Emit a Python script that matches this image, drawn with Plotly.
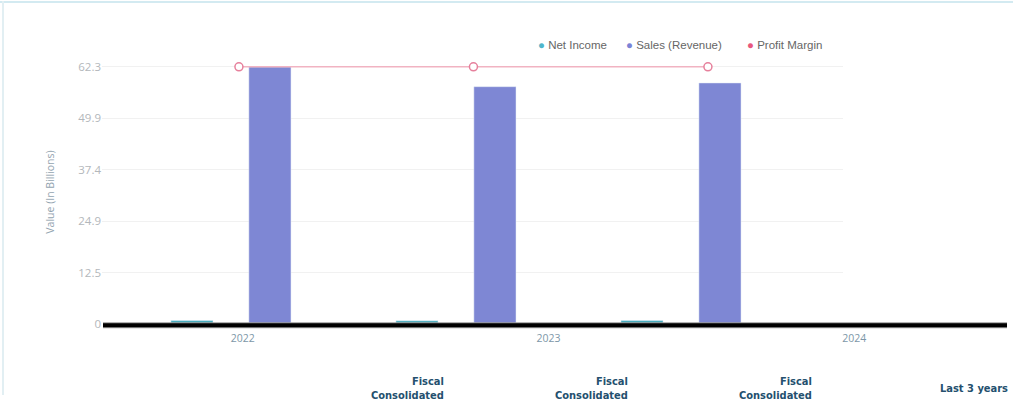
import plotly.graph_objects as go

# ---- data ----
years = [2022, 2023, 2024]
net_income = [0.9, 0.85, 0.9]          # billions
sales = [62.3, 57.5, 58.4]             # billions
profit_margin = [62.3, 62.3, 62.3]     # drawn at the top level in the source
y_tick_labels = ["0", "12.5", "24.9", "37.4", "49.9", "62.3"]
bottom_labels = ["Fiscal<br>Consolidated", "Fiscal<br>Consolidated", "Fiscal<br>Consolidated", "Last 3 years"]

W, H = 1013, 402
HE = 395.0  # effective rendered height used for paper-coordinate mapping
def px(x):
    return x / W
def py(y):
    return 1 - y / HE

C_NET = "#45abbd"
C_SALES = "#7e87d4"
C_PM = "#e6809c"
C_PM_LINE = "#f1b3c2"

fig = go.Figure()

fig.add_trace(go.Bar(x=years, y=net_income, name="Net Income", marker_color=C_NET,
                     xaxis="x", yaxis="y", showlegend=False))
fig.add_trace(go.Bar(x=years, y=sales, name="Sales (Revenue)", marker_color=C_SALES,
                     xaxis="x", yaxis="y", showlegend=False))
fig.add_trace(go.Scatter(x=years, y=profit_margin, name="Profit Margin", mode="lines+markers",
                         line=dict(color=C_PM_LINE, width=1.5),
                         marker=dict(symbol="circle", size=8, color="white",
                                     line=dict(color=C_PM, width=1.5)),
                         cliponaxis=False, xaxis="x3", yaxis="y", showlegend=False))
# carrier for the year labels axis
fig.add_trace(go.Scatter(x=years, y=[None] * len(years), mode="markers", xaxis="x2", yaxis="y3",
                         showlegend=False, hoverinfo="skip"))

# legend entries (dot + text, one small legend each)
legend_items = [("Net Income", "#4fb6cb", 540), ("Sales (Revenue)", "#7b83d6", 628),
                ("Profit Margin", "#e8587e", 749)]
legend_layout = {}
for i, (nm, c, xl) in enumerate(legend_items):
    key = "legend" if i == 0 else f"legend{i+1}"
    fig.add_trace(go.Scatter(x=[None], y=[None], mode="markers",
                             name=f"<span style='color:{c}'>●</span> {nm}",
                             marker=dict(symbol="circle", size=1, color="rgba(0,0,0,0)"),
                             xaxis="x", yaxis="y", showlegend=True, legend=key))
    legend_layout[key] = dict(orientation="h", x=px(xl - 42), y=py(44), xanchor="left",
                              yanchor="middle", bgcolor="rgba(0,0,0,0)",
                              font=dict(family="Liberation Sans, Arial, sans-serif",
                                        size=11.5, color="#666"))

ydom = [py(324), py(324 - 64 * 4.141)]

fig.update_layout(
    width=W, height=H,
    margin=dict(l=0, r=0, t=0, b=0),
    paper_bgcolor="white", plot_bgcolor="rgba(0,0,0,0)",
    barmode="group", bargap=0.307, bargroupgap=0.46,
    font=dict(family="Open Sans, DejaVu Sans, sans-serif", size=10, color="#666"),
    xaxis=dict(domain=[px(102), px(843)], range=[2021.427, 2024.72], type="linear",
               showgrid=False, showticklabels=False, zeroline=False, showline=False),
    xaxis3=dict(domain=[px(102), px(843)], range=[2021.416, 2024.576], type="linear",
                overlaying="x", anchor="y", visible=False),
    xaxis2=dict(domain=[px(90), px(1007)], range=[2021.5, 2024.5], type="linear",
                anchor="y3", tickvals=years, ticktext=[str(y) for y in years],
                showgrid=False, zeroline=False, showline=False, ticklabelstandoff=6,
                tickfont=dict(size=10.5, color="#7d97a8"), ticks=""),
    yaxis=dict(domain=ydom, range=[0, 64], anchor="x",
               tickvals=[float(t) for t in y_tick_labels], ticktext=y_tick_labels,
               showgrid=True, gridcolor="#f1f1f1", gridwidth=1, zeroline=False,
               showline=False, ticks="",
               tickfont=dict(size=11.5, color="#b3b7bb"),
               title=dict(text="Value (In Billions)", font=dict(size=10.5, color="#93a4b0"),
                          standoff=21)),
    yaxis3=dict(domain=ydom, range=[0, 64], anchor="x2", visible=False, showgrid=False),
    showlegend=True,
    **legend_layout,
)

# thick base line and page borders
fig.add_shape(type="line", xref="paper", yref="paper", x0=px(103), x1=px(1007),
              y0=py(325), y1=py(325), line=dict(color="#9a9a9a", width=6))
fig.add_shape(type="line", xref="paper", yref="paper", x0=px(103), x1=px(1007),
              y0=py(325), y1=py(325), line=dict(color="black", width=4))
fig.add_shape(type="line", xref="paper", yref="paper", x0=0, x1=1,
              y0=py(1), y1=py(1), line=dict(color="#d3eaf1", width=2))
fig.add_shape(type="line", xref="paper", yref="paper", x0=px(3), x1=px(3),
              y0=0, y1=1, line=dict(color="#e2eff3", width=2))

# bottom page labels
label_right = [446, 630, 814, 1010]
for txt, xr in zip(bottom_labels, label_right):
    fig.add_annotation(text=f"<b>{txt}</b>", xref="paper", yref="paper",
                       x=px(xr), y=py(388), xanchor="right", yanchor="middle",
                       align="right", showarrow=False,
                       font=dict(family="Liberation Sans Narrow, DejaVu Sans Condensed, sans-serif",
                                 size=11, color="#24506e"))

fig.write_html("out.html")
